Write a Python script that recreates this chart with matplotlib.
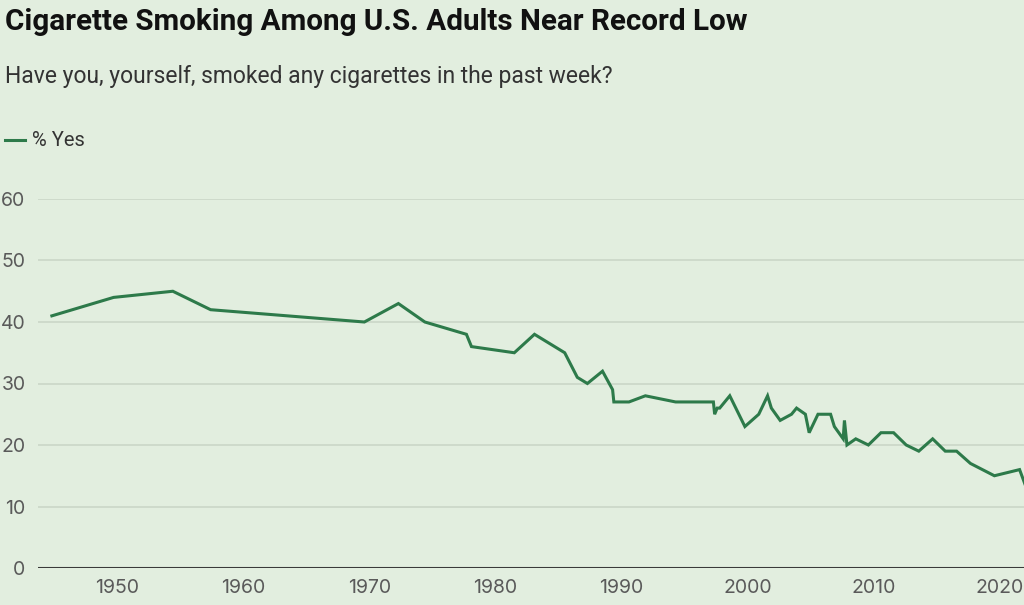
import matplotlib
matplotlib.use("Agg")
import matplotlib.pyplot as plt

years = [1944.8, 1949.7, 1954.4, 1957.4, 1969.6, 1972.3, 1974.4, 1977.7, 1978.1, 1981.5,
         1983.1, 1985.5, 1986.5, 1987.3, 1988.5, 1989.3, 1989.4, 1990.6, 1991.9, 1994.3,
         1997.3, 1997.4, 1997.6, 1997.8, 1998.6, 1999.8, 2000.9, 2001.6, 2001.9, 2002.6,
         2003.5, 2003.9, 2004.6, 2004.9, 2005.6, 2006.6, 2006.9, 2007.6, 2007.7, 2007.9,
         2008.6, 2009.6, 2010.6, 2011.6, 2012.6, 2013.6, 2014.7, 2015.7, 2016.6, 2017.7,
         2019.6, 2021.6, 2022.5]
pct_yes = [41, 44, 45, 42, 40, 43, 40, 38, 36, 35,
           38, 35, 31, 30, 32, 29, 27, 27, 28, 27,
           27, 25, 26, 26, 28, 23, 25, 28, 26, 24,
           25, 26, 25, 22, 25, 25, 23, 21, 24, 20,
           21, 20, 22, 22, 20, 19, 21, 19, 19, 17,
           15, 16, 11]
y_ticks = [0, 10, 20, 30, 40, 50, 60]
x_ticks = [1950, 1960, 1970, 1980, 1990, 2000, 2010, 2020]

BG = "#e2eedf"
GREEN = "#2d7a4a"
plt.rcParams['font.family'] = ['Roboto', 'DejaVu Sans']

fig = plt.figure(figsize=(10.24, 6.05), dpi=100, facecolor=BG)
ax = fig.add_axes([38/1024, 1-568/605, 1-38/1024, (568-199)/605])
ax.set_facecolor(BG)
ax.plot(years, pct_yes, color=GREEN, lw=2.2, solid_joinstyle='miter', zorder=3)
ax.set_xlim(1943.7, 2021.95)
ax.set_ylim(0, 60)
ax.set_yticks(y_ticks)
ax.set_xticks(x_ticks)
for s in ax.spines.values():
    s.set_visible(False)
ax.grid(axis='y', color='#cbd6c8', lw=1.2, zorder=1)
ax.axhline(0, color='#3a3a3a', lw=1.5, zorder=2)
ax.tick_params(axis='both', length=0, labelsize=14, labelcolor='#5a5a5a')
ax.tick_params(axis='y', pad=9)
ax.tick_params(axis='x', pad=8)
for lab in ax.get_xticklabels() + ax.get_yticklabels():
    lab.set_family(['Inter', 'DejaVu Sans'])

fig.text(5/1024, 1-22/605, "Cigarette Smoking Among U.S. Adults Near Record Low",
         fontsize=21.3, fontweight='bold', color='#111111', va='center', ha='left')
fig.text(5/1024, 1-77/605, "Have you, yourself, smoked any cigarettes in the past week?",
         fontsize=16.5, color='#333333', va='center', ha='left')
fig.add_artist(plt.Line2D([5/1024, 25/1024], [1-140/605, 1-140/605], color=GREEN, lw=2.2,
                          transform=fig.transFigure))
fig.text(32/1024, 1-140/605, "% Yes", fontsize=14.5, color='#333333', va='center', ha='left')

fig.savefig("out.png", dpi=100, facecolor=BG)
